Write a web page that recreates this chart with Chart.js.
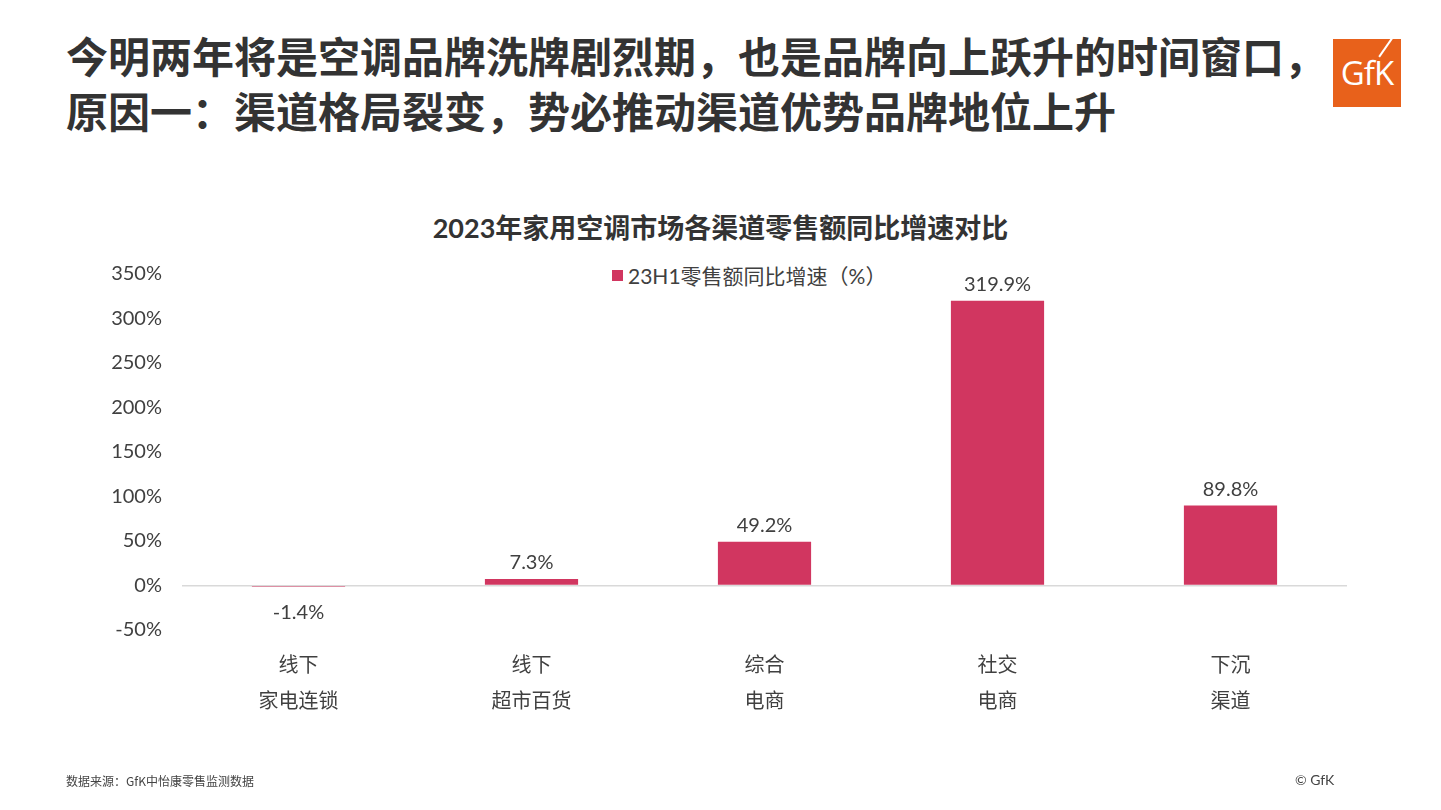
<!DOCTYPE html>
<html>
<head>
<meta charset="utf-8">
<script src="https://cdn.jsdelivr.net/npm/chart.js@4.4.1/dist/chart.umd.min.js"></script>
<style>
  html, body { margin: 0; padding: 0; background: #fff; }
  body { width: 1441px; height: 810px; position: relative; overflow: hidden;
         font-family: Lato, "Noto Sans CJK SC", sans-serif; color: #3a3a3a; }
  .headline { position: absolute; left: 66px; top: 27px; font-family: "Noto Sans CJK SC", sans-serif;
              font-weight: bold; font-size: 42px; line-height: 55px; color: #333; margin: 0; }
  .logo { position: absolute; left: 1333px; top: 39px; width: 68px; height: 68px; background: #e8611b;
          color: #fff; font-family: "Open Sans", sans-serif; font-size: 33px; line-height: 68px;
          text-align: center; letter-spacing: -1px; overflow: visible; }
  .logo:after { content: ""; position: absolute; left: 52px; top: -4px; width: 2px; height: 24px;
                background: #fff; transform: rotate(35deg); }
  .subtitle { position: absolute; left: 0; width: 1441px; top: 207px; text-align: center;
              font-family: Lato, "Noto Sans CJK SC", sans-serif; font-weight: bold; font-size: 27px; color: #333; }
  .legend { position: absolute; left: 612px; top: 262px; font-size: 21px; line-height: 28px; color: #404040; }
  .legend i { display: inline-block; width: 11px; height: 11px; background: #d13660; margin-right: 5px; vertical-align: 3px; }
  .source { position: absolute; left: 66px; top: 772px; font-family: "Noto Sans CJK SC", sans-serif; font-size: 12px; color: #444; }
  .copy { position: absolute; left: 1295px; top: 771px; font-family: Lato, sans-serif; font-size: 14px; color: #444; }
  #chart { position: absolute; left: 0; top: 0; }
</style>
</head>
<body>
<div class="headline">今明两年将是空调品牌洗牌剧烈期，也是品牌向上跃升的时间窗口，<br>原因一：渠道格局裂变，势必推动渠道优势品牌地位上升</div>
<div class="logo">GfK</div>
<div class="subtitle">2023年家用空调市场各渠道零售额同比增速对比</div>
<div class="legend"><i></i>23H1零售额同比增速（%）</div>
<canvas id="chart" width="1441" height="810"></canvas>
<div class="source">数据来源：GfK中怡康零售监测数据</div>
<div class="copy">© GfK</div>
<script>
const categories = [["线下", "家电连锁"], ["线下", "超市百货"], ["综合", "电商"], ["社交", "电商"], ["下沉", "渠道"]];
const growth = [-1.4, 7.3, 49.2, 319.9, 89.8];
const yTicks = [-50, 0, 50, 100, 150, 200, 250, 300, 350];

const barColor = "#d13660";
const textColor = "#404040";
const font = "Lato, 'Noto Sans CJK SC', sans-serif";

// value labels above / below the bars
const valueLabels = {
  id: "valueLabels",
  afterDatasetsDraw(chart) {
    const { ctx } = chart;
    const meta = chart.getDatasetMeta(0);
    ctx.save();
    ctx.font = "20px " + font;
    ctx.fillStyle = textColor;
    ctx.textAlign = "center";
    ctx.textBaseline = "middle";
    meta.data.forEach((bar, i) => {
      const v = growth[i];
      const y = v >= 0 ? bar.y - 16 : bar.y + 26;
      ctx.fillText(v.toFixed(1) + "%", bar.x, y);
    });
    ctx.restore();
  }
};

new Chart(document.getElementById("chart"), {
  type: "bar",
  data: {
    labels: categories,
    datasets: [{
      label: "23H1零售额同比增速（%）",
      data: growth,
      backgroundColor: barColor,
      barPercentage: 0.8,
      categoryPercentage: 0.5
    }]
  },
  options: {
    responsive: false,
    animation: false,
    layout: { padding: { left: 0, right: 94, top: 274, bottom: 80 } },
    plugins: {
      legend: { display: false },
      title: { display: false },
      tooltip: { enabled: false }
    },
    scales: {
      x: {
        grid: { display: false },
        border: { display: false },
        ticks: { color: textColor, font: { family: font, size: 20, lineHeight: 1.8 }, padding: 10, maxRotation: 0 },
        afterFit: s => { s.height = 100; }
      },
      y: {
        min: -50,
        max: 350,
        afterBuildTicks: s => { s.ticks = yTicks.map(v => ({ value: v })); },
        grid: {
          drawTicks: false,
          color: c => (c.tick && c.tick.value === 0 ? "#d9d9d9" : "rgba(0,0,0,0)"),
          lineWidth: 1.5
        },
        border: { display: false },
        ticks: { color: textColor, font: { family: font, size: 20 }, padding: 20, callback: v => v + "%" },
        afterFit: s => { s.width = 182; }
      }
    }
  },
  plugins: [valueLabels]
});
</script>
</body>
</html>
